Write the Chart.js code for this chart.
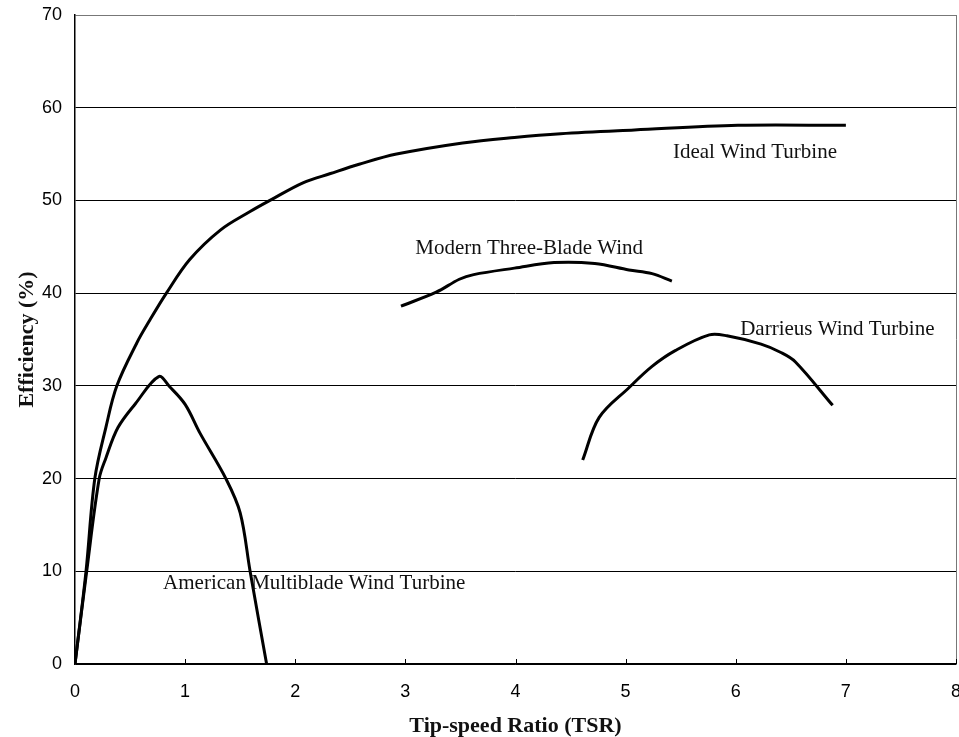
<!DOCTYPE html>
<html lang="en">
<head>
<meta charset="UTF-8">
<title>Efficiency vs Tip-speed Ratio</title>
<script src="https://cdn.jsdelivr.net/npm/chart.js"></script>
<style>
  html, body { margin: 0; padding: 0; background: #fff; }
  #wrap { width: 959px; height: 737px; }
</style>
</head>
<body>
<div id="wrap"><canvas id="tsrChart" width="959" height="737"></canvas></div>
<script>
// values (x = tip-speed ratio, y = efficiency %)
var idealX = [0, 0.10, 0.18, 0.28, 0.38, 0.56, 0.68, 0.83, 1.04, 1.32, 1.59, 1.77, 2.07, 2.32, 2.58, 2.92, 3.52, 3.99, 4.41, 5.08, 6.02, 7.0];
var idealY = [0, 10, 20, 25.5, 30, 34.6, 37.1, 40, 43.6, 46.8, 48.8, 50, 51.9, 52.9, 53.9, 55.0, 56.2, 56.8, 57.2, 57.6, 58.1, 58.1];

var americanX = [0, 0.106, 0.22, 0.28, 0.39, 0.55, 0.76, 0.86, 1.0, 1.135, 1.37, 1.50, 1.59, 1.74];
var americanY = [0, 10, 20, 22.2, 25.5, 28.1, 31.0, 29.9, 28.0, 24.9, 20, 16.3, 10, 0];

var modernX = [2.96, 3.28, 3.49, 3.62, 3.99, 4.35, 4.72, 5.03, 5.24, 5.42];
var modernY = [38.6, 40.1, 41.5, 42.0, 42.7, 43.3, 43.2, 42.5, 42.1, 41.3];

var darrieusX = [4.61, 4.76, 5.03, 5.24, 5.45, 5.76, 5.92, 6.23, 6.41, 6.54, 6.88];
var darrieusY = [22.0, 26.6, 29.8, 32.1, 33.8, 35.5, 35.4, 34.5, 33.6, 32.6, 27.9];

var xTicks = [0, 1, 2, 3, 4, 5, 6, 7, 8];
var yTicks = [0, 10, 20, 30, 40, 50, 60, 70];

var curveNames = ['Ideal Wind Turbine', 'American Multiblade Wind Turbine', 'Modern Three-Blade Wind', 'Darrieus Wind Turbine'];
// where each curve name sits (data units, left edge / middle of text)
var nameX = [5.43, 0.80, 3.09, 6.04];
var nameY = [55.2, 8.7, 44.8, 36.1];

function pts(xs, ys) {
  return xs.map(function (x, i) { return { x: x, y: ys[i] }; });
}

function line(xs, ys) {
  return {
    data: pts(xs, ys),
    borderColor: '#000',
    borderWidth: 3,
    pointRadius: 0,
    tension: 0.35,
    fill: false
  };
}

// curve names, x ticks pointing inward, right frame
var extras = {
  id: 'extras',
  afterDatasetsDraw: function (chart) {
    var ctx = chart.ctx;
    var xs = chart.scales.x, ys = chart.scales.y;
    var a = chart.chartArea;
    ctx.save();
    ctx.strokeStyle = '#777';
    ctx.lineWidth = 1;
    ctx.beginPath();
    ctx.moveTo(a.right + 0.5, a.top);
    ctx.lineTo(a.right + 0.5, a.bottom);
    ctx.stroke();

    ctx.strokeStyle = '#000';
    xTicks.forEach(function (t) {
      var px = Math.round(xs.getPixelForValue(t)) + 0.5;
      ctx.beginPath();
      ctx.moveTo(px, a.bottom);
      ctx.lineTo(px, a.bottom - 5);
      ctx.stroke();
    });

    ctx.fillStyle = '#111';
    ctx.font = '21px "Liberation Serif", "DejaVu Serif", serif';
    ctx.textAlign = 'left';
    ctx.textBaseline = 'middle';
    curveNames.forEach(function (n, i) {
      ctx.fillText(n, xs.getPixelForValue(nameX[i]), ys.getPixelForValue(nameY[i]));
    });
    ctx.restore();
  }
};

var ctx = document.getElementById('tsrChart').getContext('2d');
var chart = new Chart(ctx, {
  type: 'line',
  data: {
    datasets: [
      line(idealX, idealY),
      line(americanX, americanY),
      line(modernX, modernY),
      line(darrieusX, darrieusY)
    ]
  },
  options: {
    responsive: false,
    animation: false,
    layout: { padding: { top: 15, right: 3, left: 0, bottom: 0 } },
    plugins: {
      legend: { display: false },
      tooltip: { enabled: false }
    },
    scales: {
      x: {
        type: 'linear',
        min: 0,
        max: 8,
        afterBuildTicks: function (s) { s.ticks = xTicks.map(function (v) { return { value: v }; }); },
        afterFit: function (s) {
          s.height = 73;
          s.paddingLeft = 0;
          s.paddingRight = 0;
        },
        grid: { display: false, drawTicks: false },
        border: { display: true, color: '#000', width: 1.5 },
        ticks: {
          color: '#000',
          padding: 17,
          maxRotation: 0,
          font: { family: '"Liberation Sans", Arial, sans-serif', size: 18 }
        },
        title: {
          display: true,
          text: 'Tip-speed Ratio (TSR)',
          color: '#111',
          padding: { top: 0, bottom: 0 },
          font: { family: '"Liberation Serif", serif', size: 22, weight: 'bold', lineHeight: 1.0 }
        }
      },
      y: {
        type: 'linear',
        min: 0,
        max: 70,
        afterBuildTicks: function (s) { s.ticks = yTicks.map(function (v) { return { value: v }; }); },
        afterFit: function (s) {
          s.width = 75;
          s.paddingTop = 0;
          s.paddingBottom = 0;
        },
        grid: {
          color: function (c) { return c.tick && c.tick.value === 70 ? '#777' : '#000'; },
          lineWidth: 1,
          drawTicks: false
        },
        border: { display: true, color: '#000', width: 1.5 },
        ticks: {
          color: '#000',
          padding: 13,
          font: { family: '"Liberation Sans", Arial, sans-serif', size: 18 }
        },
        title: {
          display: true,
          text: 'Efficiency (%)',
          color: '#111',
          padding: { top: 14, bottom: 0 },
          font: { family: '"Liberation Serif", serif', size: 22, weight: 'bold' }
        }
      }
    }
  },
  plugins: [extras]
});
</script>
</body>
</html>
